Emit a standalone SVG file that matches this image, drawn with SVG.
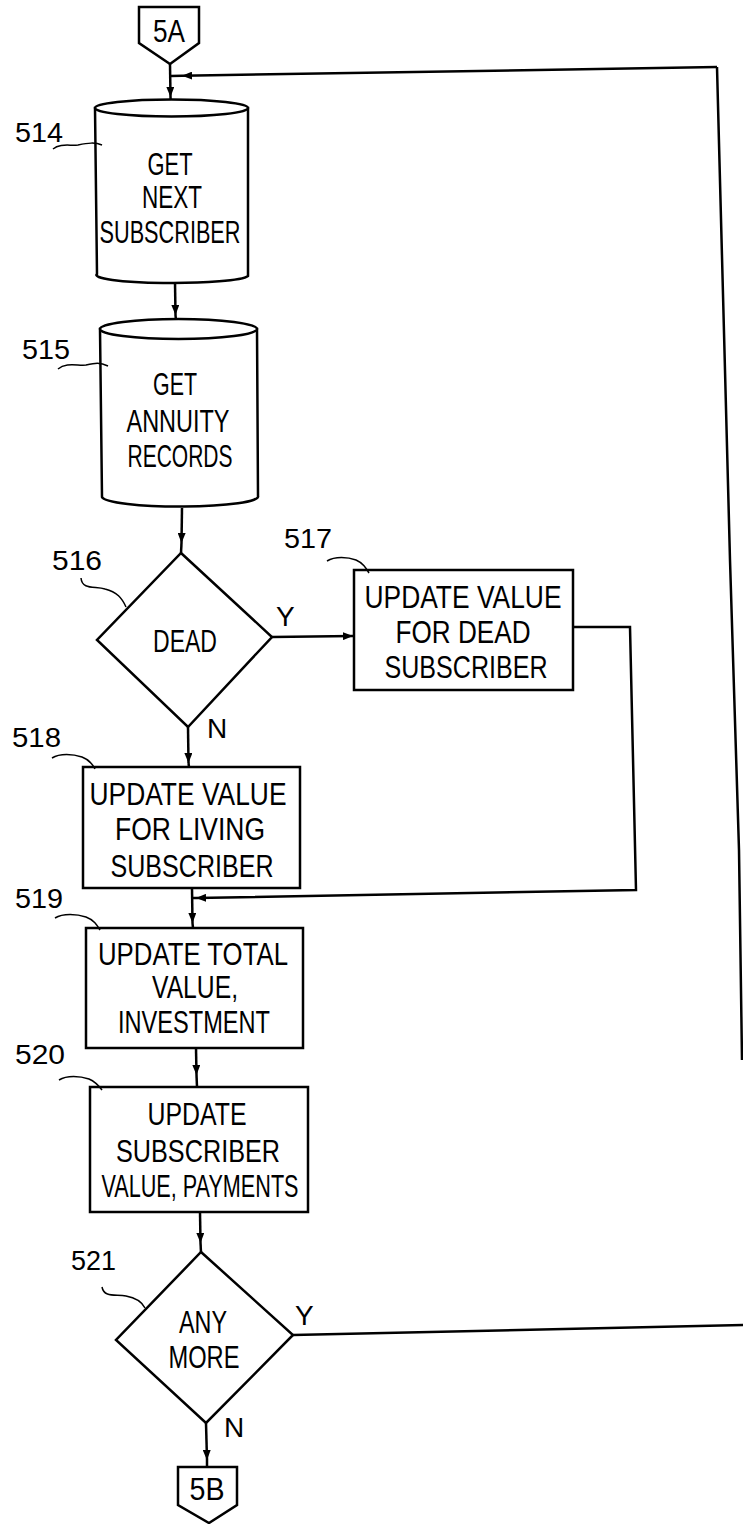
<svg xmlns="http://www.w3.org/2000/svg" width="743" height="1524" viewBox="0 0 743 1524">
<defs>
<style>
.s{fill:none;stroke:#000;stroke-width:2.5;stroke-linejoin:miter}
.b{fill:#fff;stroke:#000;stroke-width:2.5}
.l{fill:none;stroke:#000;stroke-width:1.5}
.t{font-family:"Liberation Sans Narrow","Liberation Sans",Arial,sans-serif;font-size:32px;fill:#000;text-anchor:middle}
.n{font-family:"Liberation Sans Narrow","Liberation Sans",Arial,sans-serif;font-size:28px;fill:#000}
</style>
<marker id="ah" viewBox="0 0 10 8" refX="10" refY="4" markerWidth="10" markerHeight="8" markerUnits="userSpaceOnUse" orient="auto">
<path d="M0,0 L10,4 L0,8 Z" fill="#000"/>
</marker>
</defs>
<rect width="743" height="1524" fill="#fff"/>

<g id="connectors">
<path class="s" d="M170,64 L170.5,97" marker-end="url(#ah)"/><path class="s" d="M170.5,97 L171,108"/>
<path class="s" d="M717,67 L182,75.8" marker-end="url(#ah)"/><path class="s" d="M182,75.8 L171,76"/>
<path class="s" d="M717,67 L730,560 L739,850 L742,1060"/>
<path class="s" d="M175,282 L175.5,315" marker-end="url(#ah)"/><path class="s" d="M175.5,315 L176,321"/>
<path class="s" d="M182,508 L181.5,543" marker-end="url(#ah)"/><path class="s" d="M181.5,543 L181,553"/>
<path class="s" d="M272,637 L353,636" marker-end="url(#ah)"/>
<path class="s" d="M188,727 L188.5,763" marker-end="url(#ah)"/><path class="s" d="M188.5,763 L189,767"/>
<path class="s" d="M573,627 L630,627 L636,890 L196,898" marker-end="url(#ah)"/><path class="s" d="M196,898 L192,898"/>
<path class="s" d="M192,888 L192.5,923" marker-end="url(#ah)"/><path class="s" d="M192.5,923 L193,928"/>
<path class="s" d="M196,1048 L196.5,1075" marker-end="url(#ah)"/><path class="s" d="M196.5,1075 L197,1087"/>
<path class="s" d="M200,1212 L200.5,1243" marker-end="url(#ah)"/><path class="s" d="M200.5,1243 L201,1252"/>
<path class="s" d="M293,1335 L745,1325"/>
<path class="s" d="M206,1423 L207,1460" marker-end="url(#ah)"/><path class="s" d="M207,1460 L207,1467"/>
</g>

<g id="c5A">
<path class="b" d="M139,7 L199,7 L199,43 L170,64 L139,43 Z"/>
<text class="t" x="169" y="42" textLength="32" lengthAdjust="spacingAndGlyphs">5A</text>
</g>

<g id="n514">
<path class="b" d="M95,108 L97,274 A76,8 0 0 0 248,276 L248,108 Z"/>
<ellipse class="b" cx="171.5" cy="108" rx="76.5" ry="8.5"/>
<text class="t" x="170" y="175" textLength="45" lengthAdjust="spacingAndGlyphs">GET</text>
<text class="t" x="172" y="208" textLength="60" lengthAdjust="spacingAndGlyphs">NEXT</text>
<text class="t" x="170" y="243" textLength="141" lengthAdjust="spacingAndGlyphs">SUBSCRIBER</text>
<text class="n" x="15" y="142" textLength="48" lengthAdjust="spacingAndGlyphs">514</text>
<path class="l" d="M53,149 C60,143 70,146 78,145 C88,143 95,142 102,145"/>
</g>

<g id="n515">
<path class="b" d="M100,329 L102,497 A78,10 0 0 0 258,496 L257,329 Z"/>
<ellipse class="b" cx="178.5" cy="329" rx="78.5" ry="10"/>
<text class="t" x="175" y="395" textLength="44" lengthAdjust="spacingAndGlyphs">GET</text>
<text class="t" x="178" y="432" textLength="103" lengthAdjust="spacingAndGlyphs">ANNUITY</text>
<text class="t" x="180" y="467" textLength="105" lengthAdjust="spacingAndGlyphs">RECORDS</text>
<text class="n" x="22" y="359" textLength="48" lengthAdjust="spacingAndGlyphs">515</text>
<path class="l" d="M58,369 C66,362 78,366 86,365 C95,363 100,362 108,366"/>
</g>

<g id="n516">
<path class="b" d="M181,553 L272,637 L188,727 L97,640 Z"/>
<text class="t" x="185" y="652" textLength="64" lengthAdjust="spacingAndGlyphs">DEAD</text>
<text class="n" x="52" y="570" textLength="50" lengthAdjust="spacingAndGlyphs">516</text>
<path class="l" d="M81,578 C82,590 95,586 105,589 C117,592 122,598 126,607"/>
<text class="n" x="276" y="626">Y</text>
<text class="n" x="207" y="738">N</text>
</g>

<g id="n517">
<rect class="b" x="354" y="570" width="219" height="120"/>
<text class="t" x="463" y="608" textLength="197" lengthAdjust="spacingAndGlyphs">UPDATE  VALUE</text>
<text class="t" x="463" y="643" textLength="135" lengthAdjust="spacingAndGlyphs">FOR  DEAD</text>
<text class="t" x="466" y="678" textLength="163" lengthAdjust="spacingAndGlyphs">SUBSCRIBER</text>
<text class="n" x="284" y="548" textLength="48" lengthAdjust="spacingAndGlyphs">517</text>
<path class="l" d="M327,561 C335,556 348,557 356,560 C363,563 366,568 369,573"/>
</g>

<g id="n518">
<rect class="b" x="83" y="767" width="217" height="121"/>
<text class="t" x="188" y="805" textLength="197" lengthAdjust="spacingAndGlyphs">UPDATE  VALUE</text>
<text class="t" x="190" y="840" textLength="150" lengthAdjust="spacingAndGlyphs">FOR  LIVING</text>
<text class="t" x="192" y="877" textLength="163" lengthAdjust="spacingAndGlyphs">SUBSCRIBER</text>
<text class="n" x="12" y="747" textLength="49" lengthAdjust="spacingAndGlyphs">518</text>
<path class="l" d="M52,758 C60,753 73,754 82,757 C90,760 93,765 95,769"/>
</g>

<g id="n519">
<rect class="b" x="86" y="928" width="217" height="120"/>
<text class="t" x="193" y="965" textLength="190" lengthAdjust="spacingAndGlyphs">UPDATE  TOTAL</text>
<text class="t" x="195" y="998" textLength="86" lengthAdjust="spacingAndGlyphs">VALUE,</text>
<text class="t" x="194" y="1033" textLength="152" lengthAdjust="spacingAndGlyphs">INVESTMENT</text>
<text class="n" x="15" y="908" textLength="48" lengthAdjust="spacingAndGlyphs">519</text>
<path class="l" d="M55,918 C63,913 77,914 86,917 C94,920 97,925 100,930"/>
</g>

<g id="n520">
<rect class="b" x="90" y="1087" width="218" height="125"/>
<text class="t" x="197" y="1125" textLength="99" lengthAdjust="spacingAndGlyphs">UPDATE</text>
<text class="t" x="198" y="1162" textLength="164" lengthAdjust="spacingAndGlyphs">SUBSCRIBER</text>
<text class="t" x="200" y="1197" textLength="197" lengthAdjust="spacingAndGlyphs">VALUE,  PAYMENTS</text>
<text class="n" x="15" y="1064" textLength="50" lengthAdjust="spacingAndGlyphs">520</text>
<path class="l" d="M59,1080 C67,1075 80,1076 89,1079 C96,1082 99,1086 102,1090"/>
</g>

<g id="n521">
<path class="b" d="M201,1252 L293,1335 L206,1423 L116,1340 Z"/>
<text class="t" x="203" y="1333" textLength="48" lengthAdjust="spacingAndGlyphs">ANY</text>
<text class="t" x="204" y="1368" textLength="71" lengthAdjust="spacingAndGlyphs">MORE</text>
<text class="n" x="71" y="1270" textLength="45" lengthAdjust="spacingAndGlyphs">521</text>
<path class="l" d="M102,1287 C104,1298 116,1294 126,1296 C137,1298 142,1302 145,1308"/>
<text class="n" x="295" y="1325">Y</text>
<text class="n" x="224" y="1437">N</text>
</g>

<g id="c5B">
<path class="b" d="M178,1467 L237,1467 L237,1505 L209,1523 L178,1505 Z"/>
<text class="t" x="207" y="1500" textLength="35" lengthAdjust="spacingAndGlyphs">5B</text>
</g>
</svg>
